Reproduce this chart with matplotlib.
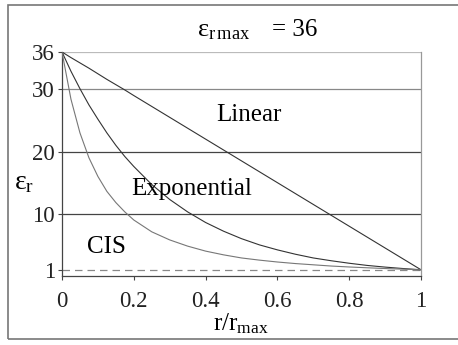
import matplotlib
matplotlib.use("Agg")
import matplotlib.pyplot as plt
from matplotlib.patches import Rectangle

plt.rcParams['font.family'] = ['Liberation Serif', 'DejaVu Serif']
plt.rcParams['mathtext.fontset'] = 'custom'
plt.rcParams['mathtext.rm'] = 'Liberation Serif'
plt.rcParams['mathtext.it'] = 'Liberation Serif'

# data
r_norm = [0, 0.025, 0.05, 0.075, 0.1, 0.125, 0.15, 0.175, 0.2, 0.25, 0.3, 0.35, 0.4,
          0.45, 0.5, 0.55, 0.6, 0.65, 0.7, 0.75, 0.8, 0.85, 0.9, 0.95, 1.0]
eps_linear = [36, 35.1, 34.25, 33.4, 32.5, 31.6, 30.75, 29.9, 29.0, 27.25, 25.5, 23.75, 22.0,
              20.25, 18.5, 16.75, 15.0, 13.25, 11.5, 9.75, 8.0, 6.25, 4.5, 2.75, 1.0]
eps_expo = [36, 32.9, 30.1, 27.5, 25.2, 23.0, 21.0, 19.2, 17.6, 14.7, 12.3, 10.3, 8.6,
            7.2, 6.0, 5.0, 4.2, 3.5, 2.9, 2.45, 2.05, 1.7, 1.43, 1.2, 1.0]
eps_cis = [36, 28.4, 23.0, 19.0, 16.0, 13.6, 11.8, 10.3, 9.0, 7.1, 5.8, 4.8, 4.0,
           3.4, 2.9, 2.55, 2.25, 2.0, 1.8, 1.6, 1.45, 1.32, 1.2, 1.1, 1.0]
eps_floor = [1, 1]
floor_x = [0, 1]
y_ticks = [36, 30, 20, 10, 1]
x_ticks = [0, 0.2, 0.4, 0.6, 0.8, 1]
x_tick_labels = ['0', '0.2', '0.4', '0.6', '0.8', '1']

W, H = 458, 345
fig = plt.figure(figsize=(W / 100, H / 100), dpi=100)
fig.patch.set_facecolor('white')

# outer frame
fig.patches.append(Rectangle((8 / W, 1 - 339 / H), 1.2, (339 - 5) / H,
                             transform=fig.transFigure, fill=False,
                             edgecolor='#777777', linewidth=1.2))

ax = fig.add_axes([62 / W, 1 - 276 / H, (421 - 62) / W, (276 - 52) / H])
ax.set_xlim(0, 1)
ax.set_ylim(0, 36)

for yv, c in [(36, '#bbbbbb'), (30, '#888888'), (20, '#444444'), (10, '#444444')]:
    ax.axhline(yv, color=c, linewidth=0.9, zorder=1)

ax.plot(r_norm, eps_linear, color='#333333', linewidth=0.8, zorder=3)
ax.plot(r_norm, eps_expo, color='#333333', linewidth=0.8, zorder=3)
ax.plot(r_norm, eps_cis, color='#777777', linewidth=0.8, zorder=3)
ax.plot(floor_x, eps_floor, color='#888888', linewidth=0.9,
        dashes=(6, 4), zorder=2)

ax.spines['top'].set_visible(False)
ax.spines['left'].set_color('#444444')
ax.spines['bottom'].set_color('#444444')
ax.spines['right'].set_color('#999999')
for s in ['left', 'bottom', 'right']:
    ax.spines[s].set_linewidth(0.9)

ax.set_yticks(y_ticks)
ax.set_yticklabels([str(v) for v in y_ticks])
ax.set_xticks(x_ticks)
ax.set_xticklabels(x_tick_labels)
ax.tick_params(axis='both', labelsize=16.5, color='#444444', length=3,
               width=0.8, direction='out', labelcolor='#222222')
ax.tick_params(axis='y', pad=2)
ax.tick_params(axis='x', pad=8)

ax.text(0.52, 25.8, 'Linear', fontsize=18, ha='center', va='center')
ax.text(0.36, 14.0, 'Exponential', fontsize=18, ha='center', va='center')
ax.text(0.123, 4.7, 'CIS', fontsize=18, ha='center', va='center')

fig.text(197 / W, 1 - 31 / H, r'$\mathregular{\varepsilon_{r\,max}}$',
         fontsize=19, ha='left', va='center')
fig.text(317 / W, 1 - 30 / H, '= 36', fontsize=18, ha='right', va='center')
fig.text(24 / W, 1 - 183 / H, r'$\mathregular{\varepsilon_r}$', fontsize=20,
         ha='center', va='center')
fig.text(241 / W, 1 - 324 / H, r'$\mathregular{r/r_{max}}$', fontsize=18,
         ha='center', va='center')

fig.savefig('out.png', dpi=100)
